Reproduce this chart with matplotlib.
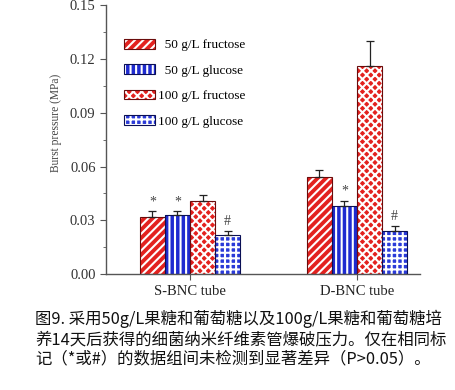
import matplotlib.pyplot as plt
import numpy as np
from matplotlib.legend_handler import HandlerTuple

plt.rcParams['hatch.linewidth'] = 1.5

groups = ['S-BNC tube', 'D-BNC tube']
labels = ['  50 g/L fructose', '  50 g/L glucose', '100 g/L fructose', '100 g/L glucose']
values = [[0.032, 0.054],
          [0.033, 0.038],
          [0.041, 0.116],
          [0.022, 0.024]]
errors = [[0.003, 0.004],
          [0.002, 0.003],
          [0.003, 0.014],
          [0.002, 0.003]]
marks = [['*', ''], ['*', '*'], ['', ''], ['#', '#']]

colors = ['#e3221f', '#1f2bd0', '#e3221f', '#2a3ad8']
edges = ['#6a0c0c', '#0a0f55', '#6a0c0c', '#0a0f55']
hatches = ['////', '|||', 'xxxx', '+++']

serif = 'Liberation Serif'

fig = plt.figure(figsize=(4.55, 3.9), dpi=100)
ax = fig.add_axes([0.233, 0.297, 0.69, 0.69])

x = np.array([1.0, 2.0])
w = 0.15
handles = []
for i in range(4):
    pos = x + (i - 1.5) * w
    ax.bar(pos, values[i], w, color=colors[i], edgecolor='white', hatch=hatches[i], linewidth=0, zorder=2)
    ax.bar(pos, values[i], w, fill=False, edgecolor=edges[i], linewidth=0.8, zorder=3)
    ax.errorbar(pos, values[i], yerr=[np.zeros(2), errors[i]], fmt='none', ecolor='#222222',
                elinewidth=0.9, capsize=3, capthick=0.9, zorder=4)
    for j in range(2):
        if marks[i][j]:
            ax.text(pos[j], values[i][j] + errors[i][j] + 0.0015, marks[i][j], ha='center', va='bottom',
                    fontsize=10, family=serif, color='#444444')
    fill = plt.Rectangle((0, 0), 1, 1, facecolor=colors[i], edgecolor='white', hatch=hatches[i], linewidth=0)
    edge = plt.Rectangle((0, 0), 1, 1, fill=False, edgecolor=edges[i], linewidth=0.8)
    handles.append((fill, edge))

ax.legend(handles, labels, loc='upper left', bbox_to_anchor=(0.02, 0.918), frameon=False,
          prop={'family': serif, 'size': 9.5}, handlelength=2.3, handleheight=0.75,
          labelspacing=0.98, handletextpad=0.3, handler_map={tuple: HandlerTuple(ndivide=1)})

ax.set_xlim(0.497, 2.377)
ax.set_ylim(0, 0.15)
ax.set_yticks(np.arange(0, 0.151, 0.03))
ax.set_yticks(np.arange(0.015, 0.15, 0.03), minor=True)
ax.set_xticks(x)
ax.set_xticklabels(groups, family=serif, fontsize=10.5, color='#222222')
for t in ax.get_yticklabels():
    t.set_family(serif)
    t.set_fontsize(10.5)
    t.set_color('#333333')
ax.set_ylabel('Burst pressure (MPa)', family=serif, fontsize=8.3, color='#444444')
ax.yaxis.set_label_coords(-0.14, 0.561)
ax.spines['top'].set_visible(False)
ax.spines['right'].set_visible(False)
for s in ['left', 'bottom']:
    ax.spines[s].set_color('#555555')
    ax.spines[s].set_linewidth(1.0)
ax.tick_params(axis='both', direction='out', color='#555555', length=4)
ax.tick_params(axis='y', which='minor', direction='out', color='#555555', length=2.5)

caption = ('图9. 采用50g/L果糖和葡萄糖以及100g/L果糖和葡萄糖培\n'
           '养14天后获得的细菌纳米纤维素管爆破压力。仅在相同标\n'
           '记（*或#）的数据组间未检测到显著差异（P>0.05）。')
fig.text(0.077, 0.205, caption, ha='left', va='top', fontsize=11.8, linespacing=1.2,
         family=['Noto Sans CJK SC', 'DejaVu Sans'], color='#111111')

fig.savefig('out.png', dpi=100)
